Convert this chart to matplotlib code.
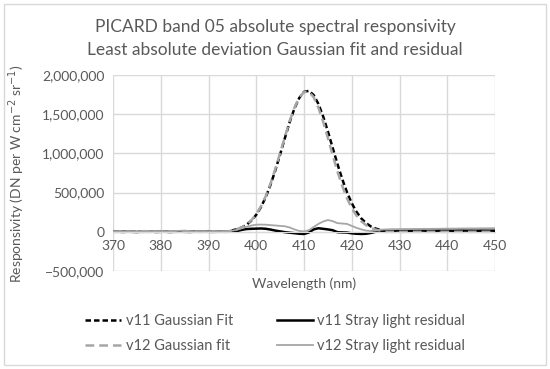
import numpy as np
import matplotlib.pyplot as plt
from matplotlib.patches import Rectangle

plt.rcParams['font.family'] = ['Lato', 'DejaVu Sans']

# wavelength grid (nm)
wavelength = list(range(370, 451))

# Gaussian fits, only non-zero between 395 and 426 nm
peak_wl = list(range(395, 427))
v11_fit_peak = [18.8e3, 33e3, 56e3, 91e3, 143e3, 217e3, 316e3, 444e3, 601e3, 785e3,
                987e3, 1196e3, 1398e3, 1573e3, 1706e3, 1784e3, 1797e3, 1745e3, 1632e3,
                1472e3, 1279e3, 1071e3, 864e3, 672e3, 504e3, 364e3, 253e3, 170e3,
                110e3, 68e3, 41e3, 24e3]
v12_fit_peak = [20e3, 35e3, 58e3, 94e3, 148e3, 224e3, 326e3, 456e3, 616e3, 803e3,
                1005e3, 1213e3, 1412e3, 1583e3, 1710e3, 1781e3, 1786e3, 1718e3, 1585e3,
                1405e3, 1195e3, 978e3, 770e3, 585e3, 428e3, 302e3, 205e3, 134e3,
                84e3, 50e3, 28e3, 15e3]

# stray light residuals, 370..450 nm
v11_resid = [0, 2e3, -2e3, 1e3, 0, -3e3, 2e3, 0, 3e3, -2e3,
             0, 1e3, -3e3, 2e3, 4e3, 0, -2e3, 1e3, 0, 2e3,
             0, -1e3, 2e3, 0, 3e3, 5e3, 10e3, 25e3, 35e3, 38e3,
             40e3, 42e3, 38e3, 28e3, 15e3, 5e3, -5e3, -12e3, -18e3, -25e3,
             -28e3, -10e3, 30e3, 45e3, 38e3, 30e3, 20e3, -5e3, -8e3, -10e3,
             -20e3, -25e3, -28e3, -25e3, -15e3, 0, 10e3, 14e3, 15e3, 15e3,
             16e3, 15e3, 14e3, 15e3, 16e3, 15e3, 14e3, 15e3, 16e3, 15e3,
             15e3, 14e3, 15e3, 16e3, 15e3, 15e3, 14e3, 15e3, 15e3, 14e3, 15e3]
v12_resid = [5e3, 6e3, 4e3, 8e3, 5e3, 3e3, 10e3, 12e3, 8e3, 6e3,
             5e3, 8e3, 6e3, 10e3, 12e3, 15e3, 8e3, 6e3, 5e3, 7e3,
             6e3, 5e3, 8e3, 6e3, 10e3, 15e3, 25e3, 45e3, 65e3, 80e3,
             90e3, 92e3, 90e3, 85e3, 80e3, 75e3, 70e3, 55e3, 30e3, 10e3,
             5e3, 20e3, 60e3, 100e3, 130e3, 150e3, 135e3, 110e3, 105e3, 100e3,
             75e3, 50e3, 30e3, 15e3, 10e3, 15e3, 25e3, 30e3, 32e3, 33e3,
             34e3, 35e3, 35e3, 36e3, 36e3, 37e3, 37e3, 38e3, 38e3, 39e3,
             40e3, 40e3, 41e3, 42e3, 42e3, 43e3, 43e3, 44e3, 44e3, 45e3, 45e3]

v11_fit = [0.0] * len(wavelength)
v12_fit = [0.0] * len(wavelength)
for w, a, b in zip(peak_wl, v11_fit_peak, v12_fit_peak):
    v11_fit[w - 370] = a
    v12_fit[w - 370] = b

text_col = '#595959'
grid_col = '#D9D9D9'
grey = '#A6A6A6'

fig = plt.figure(figsize=(5.5, 3.69), dpi=100)
fig.patches.append(Rectangle((0.008, 0.012), 0.984, 0.976, transform=fig.transFigure,
                             fill=False, edgecolor=grid_col, linewidth=1))
ax = fig.add_axes([0.2055, 0.2656, 0.6945, 0.5314])

l1, = ax.plot(wavelength, v11_fit, color='black', linestyle=(0, (2.2, 1.2)), linewidth=1.8,
              label='v11 Gaussian Fit')
l2, = ax.plot(wavelength, v11_resid, color='black', linewidth=1.8,
              label='v11 Stray light residual')
l3, = ax.plot(wavelength, v12_fit, color=grey, linestyle=(0, (3.5, 2)), linewidth=1.8,
              label='v12 Gaussian fit')
l4, = ax.plot(wavelength, v12_resid, color=grey, linewidth=1.3,
              label='v12 Stray light residual')

ax.set_xlim(370, 450)
ax.set_ylim(-500000, 2000000)
ax.set_xticks(range(370, 451, 10))
ax.set_yticks(range(-500000, 2000001, 500000))
ax.yaxis.set_major_formatter(plt.FuncFormatter(
    lambda v, p: f'{int(v):,}'.replace('-', '\u2212')))
ax.grid(True, color=grid_col, linewidth=1)
ax.set_axisbelow(True)
for s in ['top', 'right', 'left']:
    ax.spines[s].set_visible(False)
ax.spines['bottom'].set_position(('data', 0))
ax.spines['bottom'].set_color(grid_col)
ax.tick_params(length=0, labelsize=10, labelcolor=text_col, pad=6)

ax.set_xlabel('Wavelength (nm)', fontsize=10, color=text_col)
ax.xaxis.set_label_coords(0.5, -0.035)
fig.text(0.031, 0.53, 'Responsivity (DN per W cm$^{-2}$ sr$^{-1}$)', rotation=90,
         ha='center', va='center', fontsize=10, color=text_col)

fig.text(0.5, 0.927, 'PICARD band 05 absolute spectral responsivity', ha='center',
         va='center', fontsize=12.5, color=text_col)
fig.text(0.5, 0.864, 'Least absolute deviation Gaussian fit and residual', ha='center',
         va='center', fontsize=12.5, color=text_col)

fig.legend(handles=[l1, l3, l2, l4], loc='center', bbox_to_anchor=(0.5, 0.096), ncol=2,
           frameon=False, fontsize=10.5, labelcolor=text_col, handlelength=2.5,
           columnspacing=3.0, handletextpad=0.3, labelspacing=0.7)

fig.savefig('out.png', dpi=100)
